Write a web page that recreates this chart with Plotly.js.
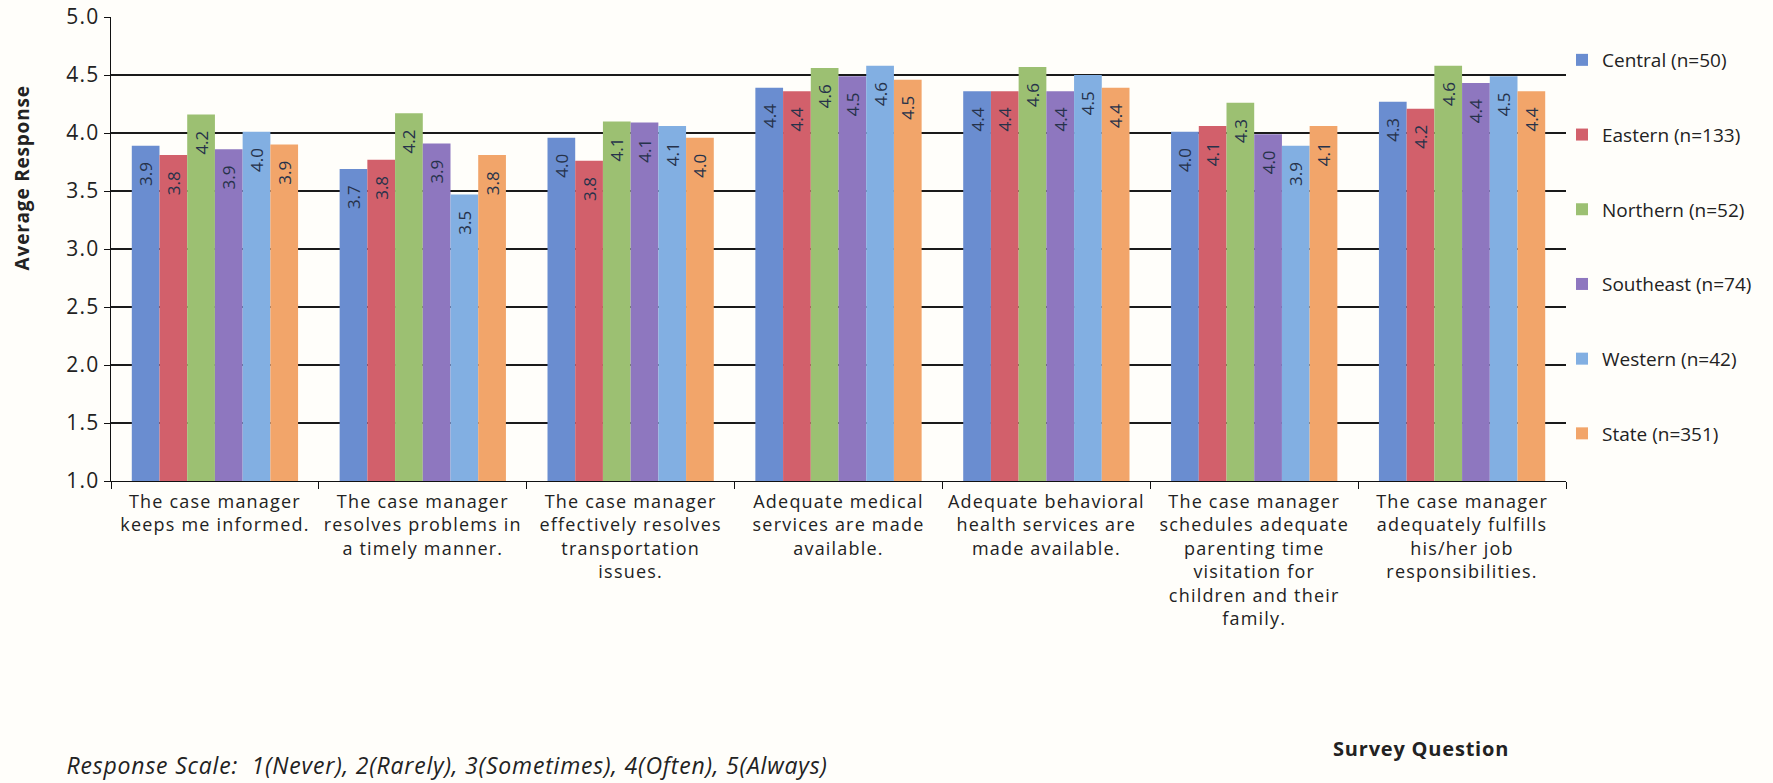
<!DOCTYPE html>
<html>
<head>
<meta charset="utf-8">
<script src="https://cdn.plot.ly/plotly-3.0.1.min.js"></script>
<style>
  html, body { margin: 0; padding: 0; background: #FFFEFA; }
  #chart { width: 1773px; height: 783px; }
  #chart .xtick text { letter-spacing: 1.2px; }
  #chart .ytick text { letter-spacing: 1.2px; }
  #chart .annotation-text { letter-spacing: 0.8px; }
</style>
</head>
<body>
<div id="chart"></div>
<script>
const categories = [
  "The case manager<br>keeps me informed.",
  "The case manager<br>resolves problems in<br>a timely manner.",
  "The case manager<br>effectively resolves<br>transportation<br>issues.",
  "Adequate medical<br>services are made<br>available.",
  "Adequate behavioral<br>health services are<br>made available.",
  "The case manager<br>schedules adequate<br>parenting time<br>visitation for<br>children and their<br>family.",
  "The case manager<br>adequately fulfills<br>his/her job<br>responsibilities."
];
const seriesNames = ["Central (n=50)", "Eastern (n=133)", "Northern (n=52)", "Southeast (n=74)", "Western (n=42)", "State (n=351)"];
const central   = [3.89, 3.69, 3.96, 4.39, 4.36, 4.01, 4.27];
const eastern   = [3.81, 3.77, 3.76, 4.36, 4.36, 4.06, 4.21];
const northern  = [4.16, 4.17, 4.10, 4.56, 4.57, 4.26, 4.58];
const southeast = [3.86, 3.91, 4.09, 4.49, 4.36, 3.99, 4.43];
const western   = [4.01, 3.47, 4.06, 4.58, 4.50, 3.89, 4.49];
const state     = [3.90, 3.81, 3.96, 4.46, 4.39, 4.06, 4.36];
const seriesColors = ["#6A8DD0", "#D2606B", "#9CC072", "#8E77BF", "#82AFE2", "#F2A56A"];
const yTickVals = [1.0, 1.5, 2.0, 2.5, 3.0, 3.5, 4.0, 4.5, 5.0];
const yTitle = "Average Response";
const xTitle = "Survey Question";
const noteText = "Response Scale:  1(Never), 2(Rarely), 3(Sometimes), 4(Often), 5(Always)";

const FONT = "Open Sans, Liberation Sans, sans-serif";
const allSeries = [central, eastern, northern, southeast, western, state];

const traces = allSeries.map((vals, i) => ({
  type: "bar",
  name: seriesNames[i],
  x: categories,
  y: vals,
  marker: { color: seriesColors[i], line: { width: 0 } },
  texttemplate: "%{y:.1f}\u00a0\u00a0\u00a0",
  textposition: "inside",
  insidetextanchor: "end",
  textangle: -90,
  constraintext: "none",
  textfont: { family: FONT, size: 17, color: "#26324a" },
  legendgroup: "g" + i,
  hoverinfo: "skip"
}));

const plotTop = 17, plotBottom = 481, plotLeft = 111, plotRight = 1566;
const H = plotBottom - plotTop, W = plotRight - plotLeft;
const px2x = p => (p - plotLeft) / W;
const px2y = p => (plotBottom - p) / H;

const layout = {
  width: 1773,
  height: 783,
  paper_bgcolor: "#FFFEFA",
  plot_bgcolor: "#FFFEFA",
  margin: { l: plotLeft, r: 1773 - plotRight, t: plotTop, b: 783 - plotBottom },
  font: { family: FONT, color: "#222" },
  barmode: "group",
  bargap: 0.2,
  bargroupgap: 0,
  showlegend: true,
  legend: {
    x: px2x(1562), xanchor: "left",
    y: px2y(41), yanchor: "top",
    font: { family: FONT, size: 19, color: "#222" },
    bgcolor: "rgba(0,0,0,0)",
    tracegroupgap: 47,
    traceorder: "grouped"
  },
  xaxis: {
    type: "category",
    tickson: "boundaries",
    ticks: "outside",
    ticklen: 7,
    tickcolor: "#111",
    showline: true,
    linecolor: "#111",
    linewidth: 1.4,
    showgrid: false,
    tickangle: 0,
    ticklabelstandoff: 4,
    tickfont: { family: FONT, size: 18, color: "#222" },
    fixedrange: true
  },
  yaxis: {
    range: [1, 5],
    tickvals: yTickVals,
    tickformat: ".1f",
    ticks: "outside",
    ticklen: 6,
    tickcolor: "#111",
    showline: true,
    linecolor: "#111",
    linewidth: 1.4,
    showgrid: true,
    gridcolor: "#1a1a1a",
    gridwidth: 1.5,
    zeroline: false,
    tickfont: { family: FONT, size: 21, color: "#222" },
    fixedrange: true
  },
  annotations: [
    {
      text: yTitle, xref: "paper", yref: "paper",
      x: px2x(22), y: px2y(178), xanchor: "center", yanchor: "middle",
      textangle: -90, showarrow: false,
      font: { family: FONT, size: 19, color: "#222", weight: "bold" }
    },
    {
      text: xTitle, xref: "paper", yref: "paper",
      x: px2x(1421), y: px2y(748), xanchor: "center", yanchor: "middle",
      showarrow: false,
      font: { family: FONT, size: 20, color: "#222", weight: "bold" }
    },
    {
      text: noteText, xref: "paper", yref: "paper",
      x: px2x(447), y: px2y(783), xanchor: "center", yanchor: "bottom",
      showarrow: false,
      font: { family: FONT, size: 23, color: "#222", style: "italic" }
    }
  ]
};

Plotly.newPlot("chart", traces, layout, { displayModeBar: false, staticPlot: true });
</script>
</body>
</html>
